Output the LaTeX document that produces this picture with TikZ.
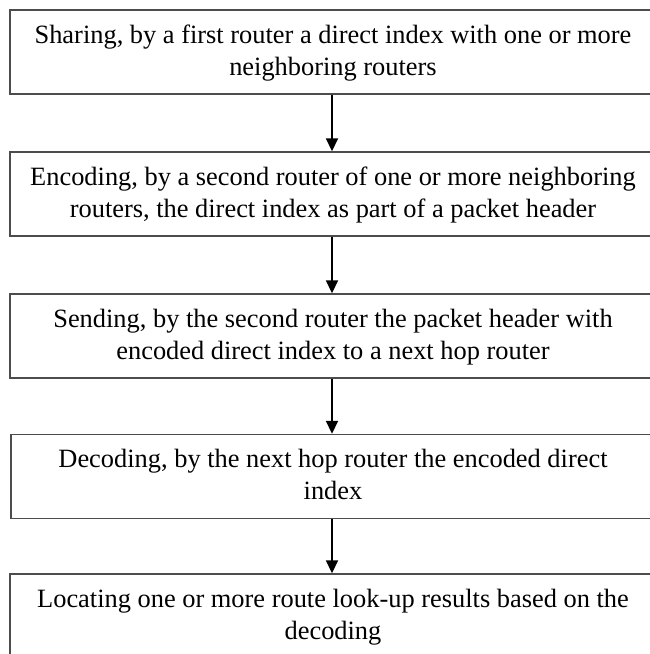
\documentclass[tikz,border=0pt]{standalone}
\usepackage{fontspec}
\setmainfont{Liberation Serif}
\usetikzlibrary{arrows.meta}
\begin{document}
\begin{tikzpicture}[x=1pt,y=1pt,
  stepbox/.style={draw=black!70, line width=1.4pt, minimum width=646pt, minimum height=84pt, inner sep=0pt},
  steptext/.style={anchor=north, inner sep=0pt, align=center, font=\fontsize{26.4}{32}\selectfont},
  flow/.style={line width=1.8pt, -{Triangle[length=13pt,width=12pt]}}]
\useasboundingbox (0,0) rectangle (649,-654);
\node[stepbox] (b1) at (333,-52) {};
\node[stepbox] (b2) at (333,-194) {};
\node[stepbox] (b3) at (333,-336) {};
\node[stepbox] (b4) at (334,-476.5) {};
\node[stepbox] (b5) at (333,-616) {};
\node[steptext] (t1) at (333,-25) {Sharing, by a first router a direct index with one or more\\neighboring routers};
\node[steptext] (t2) at (333,-167) {Encoding, by a second router of one or more neighboring\\routers, the direct index as part of a packet header};
\node[steptext] (t3) at (333,-309) {Sending, by the second router the packet header with\\encoded direct index to a next hop router};
\node[steptext] (t4) at (333,-449) {Decoding, by the next hop router the encoded direct\\index};
\node[steptext] (t5) at (333,-589) {Locating one or more route look-up results based on the\\decoding};
\draw[flow] (b1.south -| 332,0) -- (b2.north -| 332,0);
\draw[flow] (b2.south -| 332,0) -- (b3.north -| 332,0);
\draw[flow] (b3.south -| 332,0) -- (b4.north -| 332,0);
\draw[flow] (b4.south -| 332,0) -- (b5.north -| 332,0);
\end{tikzpicture}
\end{document}
